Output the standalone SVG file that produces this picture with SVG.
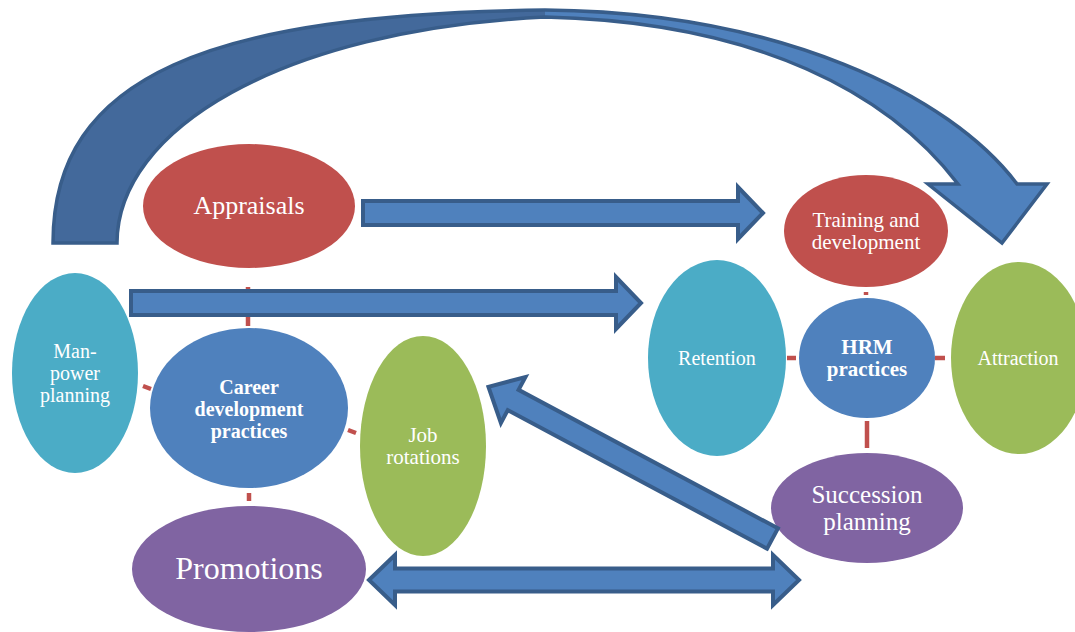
<svg xmlns="http://www.w3.org/2000/svg" width="1075" height="632" viewBox="0 0 1075 632">
  <style>
    .lbl { font-family: "Liberation Serif", "Times New Roman", serif; fill: #ffffff; text-anchor: middle; }
    .b { font-weight: bold; }
    .red { fill: #C0504D; }
    .teal { fill: #4BACC6; }
    .blue { fill: #4F81BD; }
    .green { fill: #9BBB59; }
    .purple { fill: #8064A2; }
    .link { stroke: #C0504D; stroke-width: 4.5; fill: none; }
    .arrow { fill: #4F81BD; stroke: #385D8A; stroke-width: 4; stroke-linejoin: miter; }
  </style>

  <!-- short red links between neighbouring ovals -->
  <g id="links">
    <line class="link" x1="248" y1="287" x2="248" y2="326"/>
    <line class="link" x1="143" y1="386" x2="151" y2="389"/>
    <line class="link" x1="348" y1="430" x2="356" y2="433"/>
    <line class="link" x1="249" y1="493" x2="249" y2="501"/>
    <line class="link" x1="866" y1="292" x2="866" y2="295"/>
    <line class="link" x1="787" y1="358" x2="796" y2="358"/>
    <line class="link" x1="935" y1="358" x2="945" y2="358"/>
    <line class="link" x1="867" y1="421" x2="867" y2="448"/>
  </g>

  <!-- left cluster -->
  <g id="appraisals">
    <ellipse class="red" cx="249" cy="206" rx="106" ry="62"/>
    <text class="lbl" x="249" y="214" font-size="26">Appraisals</text>
  </g>
  <g id="manpower-planning">
    <ellipse class="teal" cx="75" cy="373" rx="63" ry="100"/>
    <text class="lbl" x="75" y="358" font-size="20">Man-</text>
    <text class="lbl" x="75" y="380" font-size="20">power</text>
    <text class="lbl" x="75" y="402" font-size="20">planning</text>
  </g>
  <g id="career-development">
    <ellipse class="blue" cx="249" cy="408" rx="99" ry="80"/>
    <text class="lbl b" x="249" y="394" font-size="20">Career</text>
    <text class="lbl b" x="249" y="416" font-size="20">development</text>
    <text class="lbl b" x="249" y="438" font-size="20">practices</text>
  </g>
  <g id="job-rotations">
    <ellipse class="green" cx="423" cy="446" rx="63" ry="110"/>
    <text class="lbl" x="423" y="442" font-size="21">Job</text>
    <text class="lbl" x="423" y="464" font-size="21">rotations</text>
  </g>
  <g id="promotions">
    <ellipse class="purple" cx="249" cy="569" rx="117" ry="63"/>
    <text class="lbl" x="249" y="579" font-size="32">Promotions</text>
  </g>

  <!-- right cluster -->
  <g id="training-development">
    <ellipse class="red" cx="866" cy="231" rx="82" ry="56"/>
    <text class="lbl" x="866" y="227" font-size="21">Training and</text>
    <text class="lbl" x="866" y="249" font-size="21">development</text>
  </g>
  <g id="retention">
    <ellipse class="teal" cx="717" cy="358" rx="69" ry="98"/>
    <text class="lbl" x="717" y="365" font-size="20">Retention</text>
  </g>
  <g id="hrm-practices">
    <ellipse class="blue" cx="867" cy="358" rx="68" ry="60"/>
    <text class="lbl b" x="867" y="354" font-size="21">HRM</text>
    <text class="lbl b" x="867" y="376" font-size="21">practices</text>
  </g>
  <g id="attraction">
    <ellipse class="green" cx="1019" cy="358" rx="68" ry="96"/>
    <text class="lbl" x="1018" y="365" font-size="20">Attraction</text>
  </g>
  <g id="succession-planning">
    <ellipse class="purple" cx="867" cy="508" rx="96" ry="55"/>
    <text class="lbl" x="867" y="503" font-size="25">Succession</text>
    <text class="lbl" x="867" y="530" font-size="25">planning</text>
  </g>

  <!-- block arrows -->
  <g id="arrows">
    <!-- big curved arrow: darker rising half, lighter falling half, then one outline -->
    <path d="M53,243 C53,75 210,14 545,10 L545,17 C280,30 117,130 117,243 Z" fill="#43699B"/>
    <path d="M545,10 C780,12 950,95 1017,184 L1047,184 L1002,243 L928,184 L958,184 C890,95 760,22 545,17 Z" fill="#4F81BD"/>
    <path d="M53,243 C53,75 210,14 545,10 C780,12 950,95 1017,184 L1047,184 L1002,243 L928,184 L958,184 C890,95 760,22 545,17 C280,30 117,130 117,243 Z" fill="none" stroke="#385D8A" stroke-width="3.5" stroke-linejoin="miter"/>

    <!-- appraisals to training -->
    <path class="arrow" d="M363,201 L738,201 L738,187 L763,213 L738,239 L738,225 L363,225 Z"/>
    <!-- manpower planning to retention -->
    <path class="arrow" d="M131,291 L616,291 L616,277 L641,303 L616,329 L616,315 L131,315 Z"/>
    <!-- succession planning to job rotations -->
    <path class="arrow" transform="translate(772.5,538.5) rotate(208.1)" d="M0,-11.5 L294,-11.5 L294,-26 L322,0 L294,26 L294,11.5 L0,11.5 Z"/>
    <!-- promotions to / from succession planning -->
    <path class="arrow" d="M369,580 L395,555 L395,568.5 L773,568.5 L773,555 L799,580 L773,605 L773,591.5 L395,591.5 L395,605 Z"/>
  </g>
</svg>
